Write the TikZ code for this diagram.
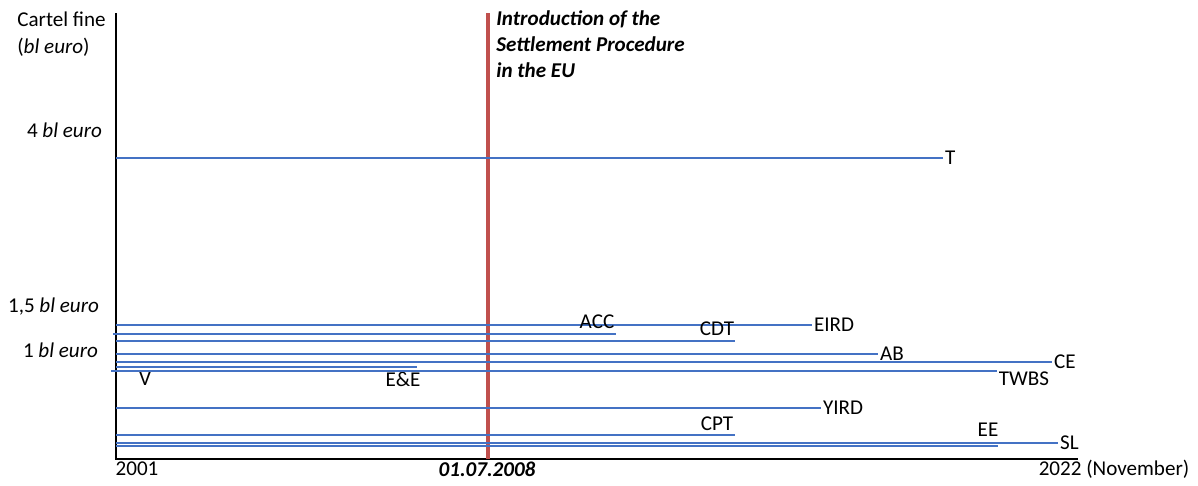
\documentclass[tikz,border=0pt]{standalone}
\usepackage{fontspec}
\setmainfont{Carlito}
\usetikzlibrary{positioning}
\definecolor{fineblue}{RGB}{68,114,196}
\definecolor{settlered}{RGB}{192,80,77}

\begin{document}
\begin{tikzpicture}[line cap=butt,x=0.02cm,y=-0.02cm,
		fine/.style={line width=1.1pt,draw=fineblue},
		axisline/.style={line width=1.1pt,draw=black},
		lbl/.style={inner sep=1pt,font=\fontsize{12}{14.8}\selectfont}]
			\useasboundingbox (0,0) rectangle (1198,485);
			% axes
			\coordinate (O) at (116,459);
			\coordinate (ytop) at (116,13);
			\coordinate (xend) at (1078,459);
			\draw [axisline] (ytop)-- (O)-- (xend);
			\node[lbl,inner sep=0pt,anchor=north west,align=left] (ylab) at (17,12) {Cartel fine\\(\textit{bl euro})};
			\node[lbl,anchor=east] (y4) at (104,130) {4 \textit{bl euro}};
			\node[lbl,anchor=east] (y15) at (101,307) {1,5 \textit{bl euro}};
			\node[lbl,anchor=east] (y1) at (100,350) {1 \textit{bl euro}};
			\node[lbl] (x2001) at (137,469) {2001};
			\node[lbl,font=\fontsize{12}{14.8}\selectfont\bfseries\itshape] (xsp) at (487,469) {01.07.2008};
			\node[lbl] (x2022) at (1114,469) {2022 (November)};
			% settlement procedure
			\coordinate (sp0) at (488,459);
			\coordinate (sp1) at (488,13);
			\draw [line width=2.2pt,draw=settlered] (sp0)-- (sp1);
			\node[lbl,inner sep=0pt,anchor=north west,align=left,font=\fontsize{12}{14.8}\selectfont\bfseries\itshape] (intro) at (496,10) {Introduction of the\\Settlement Procedure\\in the EU};
			% fines
			\coordinate (t0) at (116,158); \coordinate (t1) at (943,158);
			\draw [fine] (t0)-- (t1);
			\node[lbl,right=0pt of t1] (T) {T};
			\coordinate (eird0) at (116,325); \coordinate (eird1) at (812,325);
			\draw [fine] (eird0)-- (eird1);
			\node[lbl,right=0pt of eird1] (EIRD) {EIRD};
			\coordinate (acc0) at (113,334); \coordinate (acc1) at (616,334);
			\draw [fine] (acc0)-- (acc1);
			\node[lbl] (ACC) at (597,322) {ACC};
			\coordinate (cdt0) at (116,341); \coordinate (cdt1) at (735,341);
			\draw [fine] (cdt0)-- (cdt1);
			\node[lbl] (CDT) at (717,329) {CDT};
			\coordinate (ab0) at (116,354); \coordinate (ab1) at (878,354);
			\draw [fine] (ab0)-- (ab1);
			\node[lbl,right=0pt of ab1] (AB) {AB};
			\coordinate (ce0) at (116,362); \coordinate (ce1) at (1052,362);
			\draw [fine] (ce0)-- (ce1);
			\node[lbl,right=0pt of ce1] (CE) {CE};
			\coordinate (ve0) at (116,367); \coordinate (ve1) at (417,367);
			\draw [fine] (ve0)-- (ve1);
			\node[lbl] (V) at (145,379) {V};
			\node[lbl] (EandE) at (403,379) {E\&E};
			\coordinate (twbs0) at (111,371); \coordinate (twbs1) at (997,371);
			\draw [fine] (twbs0)-- (twbs1);
			\node[lbl] (TWBS) at (1024,379) {TWBS};
			\coordinate (yird0) at (116,408); \coordinate (yird1) at (821,408);
			\draw [fine] (yird0)-- (yird1);
			\node[lbl,right=0pt of yird1] (YIRD) {YIRD};
			\coordinate (cpt0) at (116,435); \coordinate (cpt1) at (735,435);
			\draw [fine] (cpt0)-- (cpt1);
			\node[lbl] (CPT) at (717,424) {CPT};
			\coordinate (sl0) at (116,443); \coordinate (sl1) at (1058,443);
			\draw [fine] (sl0)-- (sl1);
			\node[lbl,right=0pt of sl1] (SL) {SL};
			\coordinate (ee0) at (116,446); \coordinate (ee1) at (998,446);
			\draw [fine] (ee0)-- (ee1);
			\node[lbl] (EE) at (988,430) {EE};
		\end{tikzpicture}
\end{document}
